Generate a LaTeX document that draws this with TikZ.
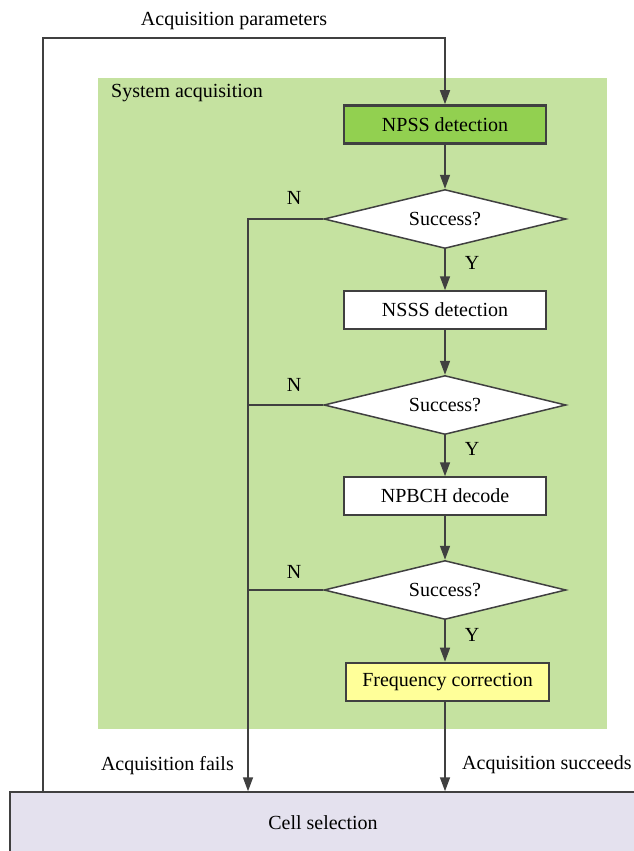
\documentclass[tikz,border=0pt]{standalone}
\usepackage{fontspec}
\setmainfont{Liberation Serif}
\newfontfamily\diagfont{Liberation Serif}
\usetikzlibrary{shapes.geometric,arrows.meta}
\definecolor{linegray}{HTML}{404040}
\definecolor{bggreen}{HTML}{C5E2A0}
\definecolor{npssgreen}{HTML}{92D050}
\definecolor{corryellow}{HTML}{FFFF99}
\definecolor{celllav}{HTML}{E4E1EE}
\tikzset{
  stepbox/.style={draw=linegray, line width=1.5pt, fill=white, minimum width=202pt, minimum height=38pt, inner sep=0pt},
  keybox/.style={stepbox, line width=2.6pt},
  decision/.style={diamond, draw=linegray, line width=1.5pt, fill=white, minimum width=242pt, minimum height=59pt, inner sep=0pt, aspect=4.1},
  flow/.style={draw=linegray, line width=1.5pt},
  arr/.style={flow, -{Triangle[length=14pt,width=10pt]}},
  lbl/.style={inner sep=0pt, text=black}
}
\begin{document}
\begin{tikzpicture}[x=1pt, y=-1pt, font=\diagfont\fontsize{20}{24}\selectfont]
\clip (0,0) rectangle (634,851);
\fill[white] (0,0) rectangle (634,851);
% system acquisition area
\fill[bggreen] (98,78) rectangle (607,729);
\node[lbl, anchor=west] (systitle) at (111,93) {System acquisition};

% flow steps
\node[keybox, fill=npssgreen] (npss) at (445,124.5) {NPSS detection};
\node[decision] (d1) at (445,219) {Success?};
\node[stepbox] (nsss) at (445,310) {NSSS detection};
\node[decision] (d2) at (445,405) {Success?};
\node[stepbox] (npbch) at (445,496) {NPBCH decode};
\node[decision] (d3) at (445,590) {Success?};
\node[keybox, fill=corryellow, minimum width=203pt] (freq) at (447.5,682) {Frequency correction};

% cell selection
\node[draw=linegray, line width=1.5pt, fill=celllav, minimum width=626pt, minimum height=62pt, inner sep=0pt] (cell) at (323,823) {Cell selection};

% main path
\draw[arr] (npss) -- (d1);
\draw[arr] (d1) -- (nsss);
\draw[arr] (nsss) -- (d2);
\draw[arr] (d2) -- (npbch);
\draw[arr] (npbch) -- (d3);
\draw[arr] (d3) -- (freq.north -| d3.south);
\draw[arr] (freq.south -| d3.south) -- (d3.south |- cell.north);

% failure path
\coordinate (failx) at (248,0);
\draw[arr] (d1.west) -| (failx |- cell.north);
\draw[flow] (d2.west) -- (d2.west -| failx);
\draw[flow] (d3.west) -- (d3.west -| failx);

% feedback of acquisition parameters
\coordinate (loop) at (43,38);
\draw[arr] (cell.north -| loop) -- (loop) -| (npss.north);

% labels
\node[lbl] (yes1) at (472,263) {Y};
\node[lbl] (yes2) at (472,449) {Y};
\node[lbl] (yes3) at (472,635) {Y};
\node[lbl] (no1) at (294,198) {N};
\node[lbl] (no2) at (294,385) {N};
\node[lbl] (no3) at (294,572) {N};
\node[lbl] (params) at (234,21) {Acquisition parameters};
\node[lbl, anchor=east] (fails) at (234,766) {Acquisition fails};
\node[lbl, anchor=west] (succ) at (462,765) {Acquisition succeeds};
\end{tikzpicture}
\end{document}
